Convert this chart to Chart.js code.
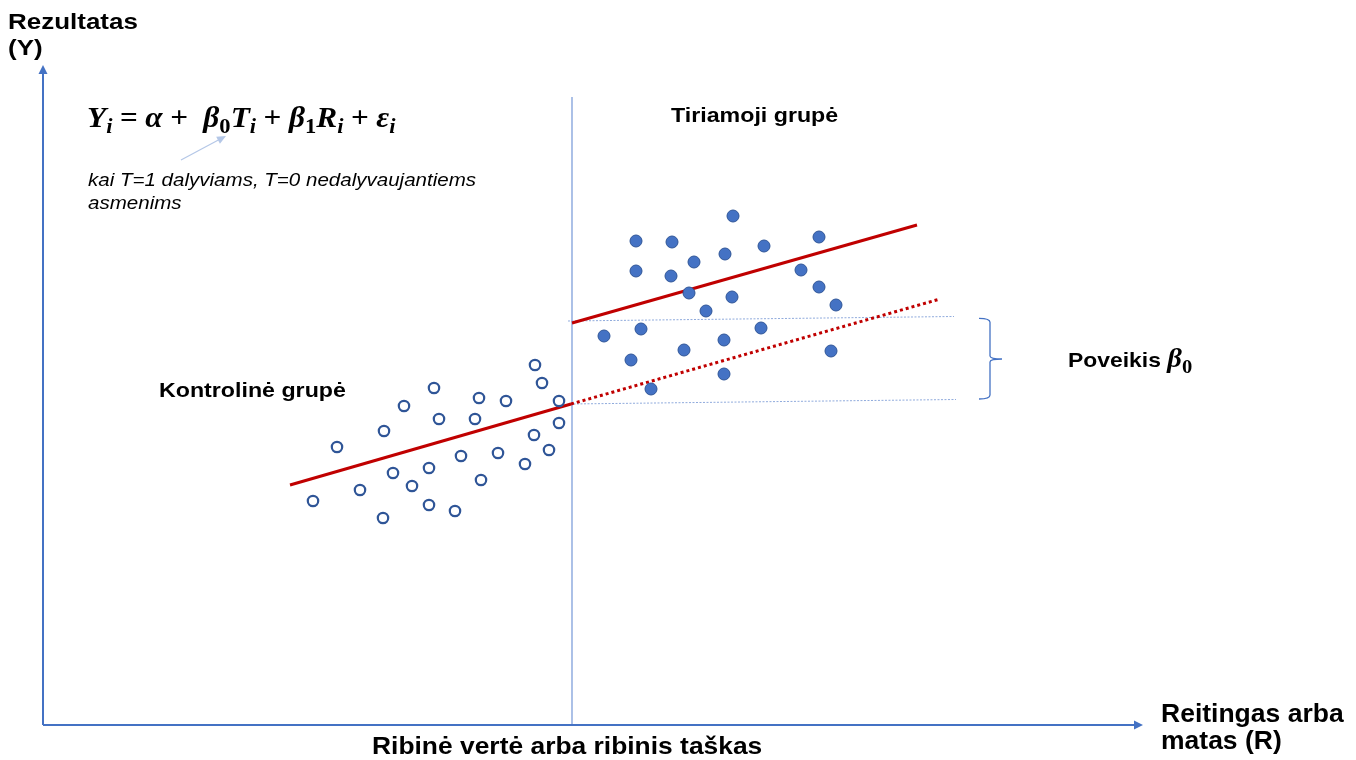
<!DOCTYPE html>
<html>
<head>
<meta charset="utf-8">
<script src="https://cdn.jsdelivr.net/npm/chart.js@4.4.1/dist/chart.umd.min.js"></script>
<style>
  html,body{margin:0;padding:0;background:#fff;}
  #wrap{position:relative;width:1356px;height:760px;overflow:hidden;}
  #c{position:absolute;left:0;top:0;}
  .t{position:absolute;white-space:nowrap;line-height:1;color:#000;transform-origin:0 0;
     font-family:"Liberation Sans",Arial,sans-serif;}
  .b{font-weight:bold;}
  .m{font-family:"Liberation Serif","DejaVu Serif",serif;font-weight:bold;font-style:italic;}
  .m sub{font-size:0.72em;vertical-align:-0.3em;line-height:0;}
  .m sub.n{font-style:normal;}
  .op{font-style:normal;margin:0 0.24em;}
</style>
</head>
<body>
<div id="wrap">
  <canvas id="c" width="1356" height="760"></canvas>
  <div class="t b" style="left:8px;top:10.9px;font-size:22px;transform:scaleX(1.18)">Rezultatas</div>
  <div class="t b" style="left:8px;top:36.9px;font-size:22px;transform:scaleX(1.18)">(Y)</div>
  <div class="t m" id="eq" style="left:87px;top:102.7px;font-size:29px;transform:scaleX(1.08)">Y<sub>i</sub><span class="op">=</span>α<span class="op">+</span>&nbsp;β<sub class="n">0</sub>T<sub>i</sub><span class="op">+</span>β<sub class="n">1</sub>R<sub>i</sub><span class="op">+</span>ε<sub>i</sub></div>
  <div class="t" style="left:88px;top:171px;font-size:18.5px;font-style:italic;transform:scaleX(1.11)">kai T=1 dalyviams, T=0 nedalyvaujantiems</div>
  <div class="t" style="left:88px;top:193.8px;font-size:18.5px;font-style:italic;transform:scaleX(1.11)">asmenims</div>
  <div class="t b" style="left:671px;top:104.8px;font-size:20px;transform:scaleX(1.16)">Tiriamoji grupė</div>
  <div class="t b" style="left:159px;top:379.8px;font-size:20px;transform:scaleX(1.16)">Kontrolinė grupė</div>
  <div class="t b" style="left:1068px;top:348.9px;font-size:21px;transform:scaleX(1.09)">Poveikis <span class="m" style="font-size:1.25em;line-height:0">β<sub class="n">0</sub></span></div>
  <div class="t b" style="left:372px;top:734.4px;font-size:24px;transform:scaleX(1.1)">Ribinė vertė arba ribinis taškas</div>
  <div class="t b" style="left:1161px;top:700.8px;font-size:25px;transform:scaleX(1.06)">Reitingas arba</div>
  <div class="t b" style="left:1161px;top:728.3px;font-size:25px;transform:scaleX(1.06)">matas (R)</div>
</div>
<script>
// ---- Data (R = rating, Y = outcome, arbitrary units) ----
const controlR = [27.0,29.4,31.7,34.0,34.1,35.0,36.1,36.9,38.6,38.6,39.1,39.6,41.2,41.8,43.2,43.6,43.8,45.5,46.3,48.2,49.1,49.2,49.9,50.6,51.6,51.6];
const controlY = [22.4,27.8,23.5,20.7,29.4,25.2,31.9,23.9,25.7,22.0,33.7,30.6,21.4,26.9,30.6,32.7,24.5,27.2,32.4,26.1,29.0,36.0,34.2,27.5,32.4,30.2];
const treatR = [69.0,59.3,62.9,77.6,72.1,68.2,65.1,59.3,62.8,75.8,77.6,64.6,68.9,79.3,66.3,59.8,71.8,56.1,68.1,64.1,78.8,58.8,68.1,60.8];
const treatY = [50.9,48.4,48.3,48.8,47.9,47.1,46.3,45.4,44.9,45.5,43.8,43.2,42.8,42.0,41.4,39.6,39.7,38.9,38.5,37.5,37.4,36.5,35.1,33.6];
// fitted lines (endpoints)
const controlFitR = [24.7,52.8];   const controlFitY = [24.0,32.1];
const treatFitR   = [52.9,87.4];   const treatFitY   = [40.2,50.0];
const counterR    = [52.8,89.7];   const counterY    = [32.1,42.6];
const upperRefR   = [52.5,91.1];   const upperRefY   = [40.4,40.85];
const lowerRefR   = [52.7,91.3];   const lowerRefY   = [32.1,32.55];
const cutoffR     = [52.9,52.9];   const cutoffY     = [0,62.8];
// axis ranges
const rMin = 0, rMax = 110, yMin = 0, yMax = 68, yAxisTop = 66;

const pts = (xs, ys) => xs.map((x, i) => ({x, y: ys[i]}));

const lineDs = (xs, ys, color, width, dash) => ({
  data: pts(xs, ys), showLine: true, borderColor: color, borderWidth: width,
  borderDash: dash || [], pointRadius: 0, pointHoverRadius: 0, fill: false,
  borderCapStyle: 'butt', tension: 0
});

const overlay = {
  id: 'overlay',
  afterDatasetsDraw(chart) {
    const {ctx, scales: {x, y}} = chart;
    ctx.save();
    // axes with arrows
    ctx.strokeStyle = '#4472C4'; ctx.fillStyle = '#4472C4'; ctx.lineWidth = 2;
    const x0 = x.getPixelForValue(rMin), y0 = y.getPixelForValue(yMin);
    const xe = x.getPixelForValue(rMax), ye = y.getPixelForValue(yAxisTop);
    ctx.beginPath(); ctx.moveTo(x0, y0); ctx.lineTo(xe - 7, y0); ctx.stroke();
    ctx.beginPath(); ctx.moveTo(xe, y0); ctx.lineTo(xe - 9, y0 - 4.5); ctx.lineTo(xe - 9, y0 + 4.5); ctx.closePath(); ctx.fill();
    ctx.beginPath(); ctx.moveTo(x0, y0); ctx.lineTo(x0, ye + 7); ctx.stroke();
    ctx.beginPath(); ctx.moveTo(x0, ye); ctx.lineTo(x0 - 4.5, ye + 9); ctx.lineTo(x0 + 4.5, ye + 9); ctx.closePath(); ctx.fill();
    // brace for effect
    const bx0 = x.getPixelForValue(93.6), bx1 = x.getPixelForValue(94.7), bx2 = x.getPixelForValue(95.9);
    const byT = y.getPixelForValue(40.67), byM = y.getPixelForValue(36.6), byB = y.getPixelForValue(32.6);
    ctx.lineWidth = 1.3; ctx.strokeStyle = '#4472C4';
    ctx.beginPath();
    ctx.moveTo(bx0, byT);
    ctx.quadraticCurveTo(bx1, byT, bx1, byT + 4);
    ctx.lineTo(bx1, byM - 3);
    ctx.quadraticCurveTo(bx1, byM, bx2, byM);
    ctx.moveTo(bx2, byM);
    ctx.quadraticCurveTo(bx1, byM, bx1, byM + 3);
    ctx.lineTo(bx1, byB - 4);
    ctx.quadraticCurveTo(bx1, byB, bx0, byB);
    ctx.stroke();
    // pointer arrow from note to beta_0
    const ax0 = x.getPixelForValue(13.8), ay0 = y.getPixelForValue(56.5);
    const ax1 = x.getPixelForValue(18.3), ay1 = y.getPixelForValue(58.9);
    ctx.strokeStyle = '#B4C7E7'; ctx.fillStyle = '#B4C7E7'; ctx.lineWidth = 1.2;
    const ang = Math.atan2(ay1 - ay0, ax1 - ax0);
    ctx.beginPath(); ctx.moveTo(ax0, ay0); ctx.lineTo(ax1 - 6 * Math.cos(ang), ay1 - 6 * Math.sin(ang)); ctx.stroke();
    ctx.beginPath();
    ctx.moveTo(ax1, ay1);
    ctx.lineTo(ax1 - 9 * Math.cos(ang) + 4 * Math.sin(ang), ay1 - 9 * Math.sin(ang) - 4 * Math.cos(ang));
    ctx.lineTo(ax1 - 9 * Math.cos(ang) - 4 * Math.sin(ang), ay1 - 9 * Math.sin(ang) + 4 * Math.cos(ang));
    ctx.closePath(); ctx.fill();
    ctx.restore();
  }
};

new Chart(document.getElementById('c'), {
  type: 'scatter',
  data: {
    datasets: [
      { label: 'Tiriamoji grupė', data: pts(treatR, treatY), pointRadius: 6, pointHoverRadius: 6,
        backgroundColor: '#4472C4', borderColor: '#2F5597', borderWidth: 1 },
      { label: 'Kontrolinė grupė', data: pts(controlR, controlY), pointRadius: 5.2, pointHoverRadius: 5.2,
        backgroundColor: '#FFFFFF', borderColor: '#2F5597', borderWidth: 2.2 },
      lineDs(controlFitR, controlFitY, '#C00000', 3),
      lineDs(treatFitR, treatFitY, '#C00000', 3),
      lineDs(counterR, counterY, '#C00000', 3, [3, 3]),
      lineDs(upperRefR, upperRefY, '#8FAADC', 1, [2, 1.5]),
      lineDs(lowerRefR, lowerRefY, '#8FAADC', 1, [2, 1.5]),
      lineDs(cutoffR, cutoffY, '#7F9FDA', 1.3)
    ]
  },
  options: {
    responsive: false, animation: false, devicePixelRatio: 1,
    layout: { padding: { left: 43, right: 213, top: 45, bottom: 35 } },
    plugins: { legend: { display: false }, tooltip: { enabled: false } },
    events: [],
    clip: false,
    scales: {
      x: { type: 'linear', min: rMin, max: rMax, display: false },
      y: { type: 'linear', min: yMin, max: yMax, display: false }
    }
  },
  plugins: [overlay]
});
</script>
</body>
</html>
